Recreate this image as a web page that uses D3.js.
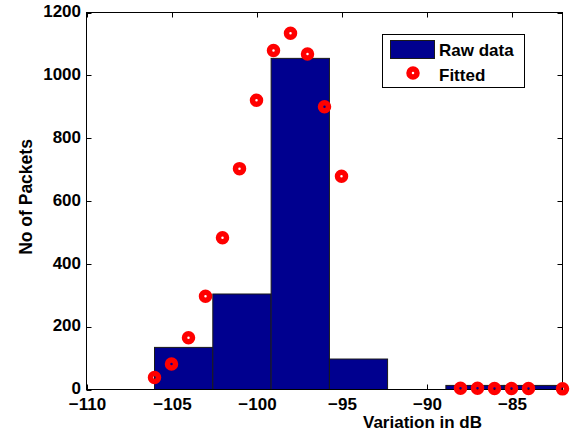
<!DOCTYPE html>
<html>
<head>
<meta charset="utf-8">
<script src="https://cdn.jsdelivr.net/npm/d3@7"></script>
<style>
  html, body { margin: 0; padding: 0; background: #fff; }
  svg { display: block; font-family: "Liberation Sans", Arial, sans-serif; font-weight: bold; }
</style>
</head>
<body>
<svg id="chart" width="571" height="432"></svg>
<script>
// Histogram of received signal variation (7 bins) with fitted counts
const binEdges = [-106, -102.57, -99.14, -95.71, -92.29, -88.86, -85.43, -82];
const binCounts = [134, 304, 1054, 97, 0, 13, 13];

const fittedX = [-106, -105, -104, -103, -102, -101, -100, -99, -98, -97, -96, -95,
                 -88, -87, -86, -85, -84, -82];
const fittedY = [38, 81, 165, 297, 483, 703, 921, 1079, 1134, 1068, 900, 679,
                 4, 4, 3, 3, 3, 2];

const xTicks = [-110, -105, -100, -95, -90, -85];
const yTicks = [0, 200, 400, 600, 800, 1000, 1200];

const legendLabels = ["Raw data", "Fitted"];

const barColor = "#00008f";
const markColor = "#ff0000";

const svg = d3.select("#chart");
const plot = { left: 86.5, right: 562.5, top: 12.5, bottom: 389.5 };

const x = d3.scaleLinear().domain([-110, -82]).range([plot.left, plot.right]);
const y = d3.scaleLinear().domain([0, 1200]).range([plot.bottom, plot.top]);

const fmt = d => (d < 0 ? "\u2212" + Math.abs(d) : String(d));
const tickLen = 5;

// inward tick marks on all four sides
const ticks = svg.append("g").attr("stroke", "#000").attr("stroke-width", 1);
ticks.selectAll("line.xb").data(xTicks).join("line")
  .attr("x1", d => Math.round(x(d)) + 0.5).attr("x2", d => Math.round(x(d)) + 0.5)
  .attr("y1", plot.bottom).attr("y2", plot.bottom - tickLen);
ticks.selectAll("line.xt").data(xTicks).join("line")
  .attr("x1", d => Math.round(x(d)) + 0.5).attr("x2", d => Math.round(x(d)) + 0.5)
  .attr("y1", plot.top).attr("y2", plot.top + tickLen);
ticks.selectAll("line.yl").data(yTicks).join("line")
  .attr("y1", d => Math.round(y(d)) + 0.5).attr("y2", d => Math.round(y(d)) + 0.5)
  .attr("x1", plot.left).attr("x2", plot.left + tickLen);
ticks.selectAll("line.yr").data(yTicks).join("line")
  .attr("y1", d => Math.round(y(d)) + 0.5).attr("y2", d => Math.round(y(d)) + 0.5)
  .attr("x1", plot.right).attr("x2", plot.right - tickLen);

// histogram bars
const bins = binCounts.map((c, i) => ({ x0: binEdges[i], x1: binEdges[i + 1], count: c }));
svg.append("g").selectAll("rect").data(bins.filter(b => b.count > 0)).join("rect")
  .attr("x", d => x(d.x0))
  .attr("width", d => x(d.x1) - x(d.x0))
  .attr("y", d => y(d.count))
  .attr("height", d => y(0) - y(d.count))
  .attr("fill", barColor)
  .attr("stroke", "#1a1a1a")
  .attr("stroke-width", 1);

// axes box
svg.append("rect")
  .attr("x", plot.left).attr("y", plot.top)
  .attr("width", plot.right - plot.left).attr("height", plot.bottom - plot.top)
  .attr("fill", "none").attr("stroke", "#000").attr("stroke-width", 1);

// fitted markers: thick red rings
svg.append("g").selectAll("circle").data(fittedX.map((v, i) => [v, fittedY[i]])).join("circle")
  .attr("cx", d => x(d[0]))
  .attr("cy", d => y(d[1]))
  .attr("r", 4)
  .attr("fill", "none")
  .attr("stroke", markColor)
  .attr("stroke-width", 5.5);

// tick labels
svg.append("g").selectAll("text").data(xTicks).join("text")
  .attr("x", d => x(d) + 1).attr("y", 409.5)
  .attr("text-anchor", "middle")
  .attr("font-size", 17)
  .text(fmt);
svg.append("g").selectAll("text").data(yTicks).join("text")
  .attr("x", 81).attr("y", d => y(d) - 1)
  .attr("dy", "0.34em")
  .attr("text-anchor", "end")
  .attr("font-size", 17)
  .text(fmt);

// axis titles
svg.append("text")
  .attr("x", 422.5).attr("y", 427.5)
  .attr("text-anchor", "middle")
  .attr("font-size", 17)
  .text("Variation in dB");
svg.append("text")
  .attr("transform", "translate(32,197) rotate(-90)")
  .attr("text-anchor", "middle")
  .attr("font-size", 17.5)
  .text("No of Packets");

// legend
const lg = svg.append("g");
lg.append("rect")
  .attr("x", 382.5).attr("y", 34.5).attr("width", 142).attr("height", 53)
  .attr("fill", "#fff").attr("stroke", "#000").attr("stroke-width", 1);
lg.append("rect")
  .attr("x", 390.5).attr("y", 40.5).attr("width", 44).attr("height", 18)
  .attr("fill", barColor).attr("stroke", "#1a1a1a").attr("stroke-width", 1);
lg.append("circle")
  .attr("cx", 413).attr("cy", 73).attr("r", 4)
  .attr("fill", "none").attr("stroke", markColor).attr("stroke-width", 5.5);
lg.selectAll("text").data(legendLabels).join("text")
  .attr("x", 439).attr("y", (d, i) => 56 + i * 24.5)
  .attr("font-size", 17)
  .text(d => d);
</script>
</body>
</html>
